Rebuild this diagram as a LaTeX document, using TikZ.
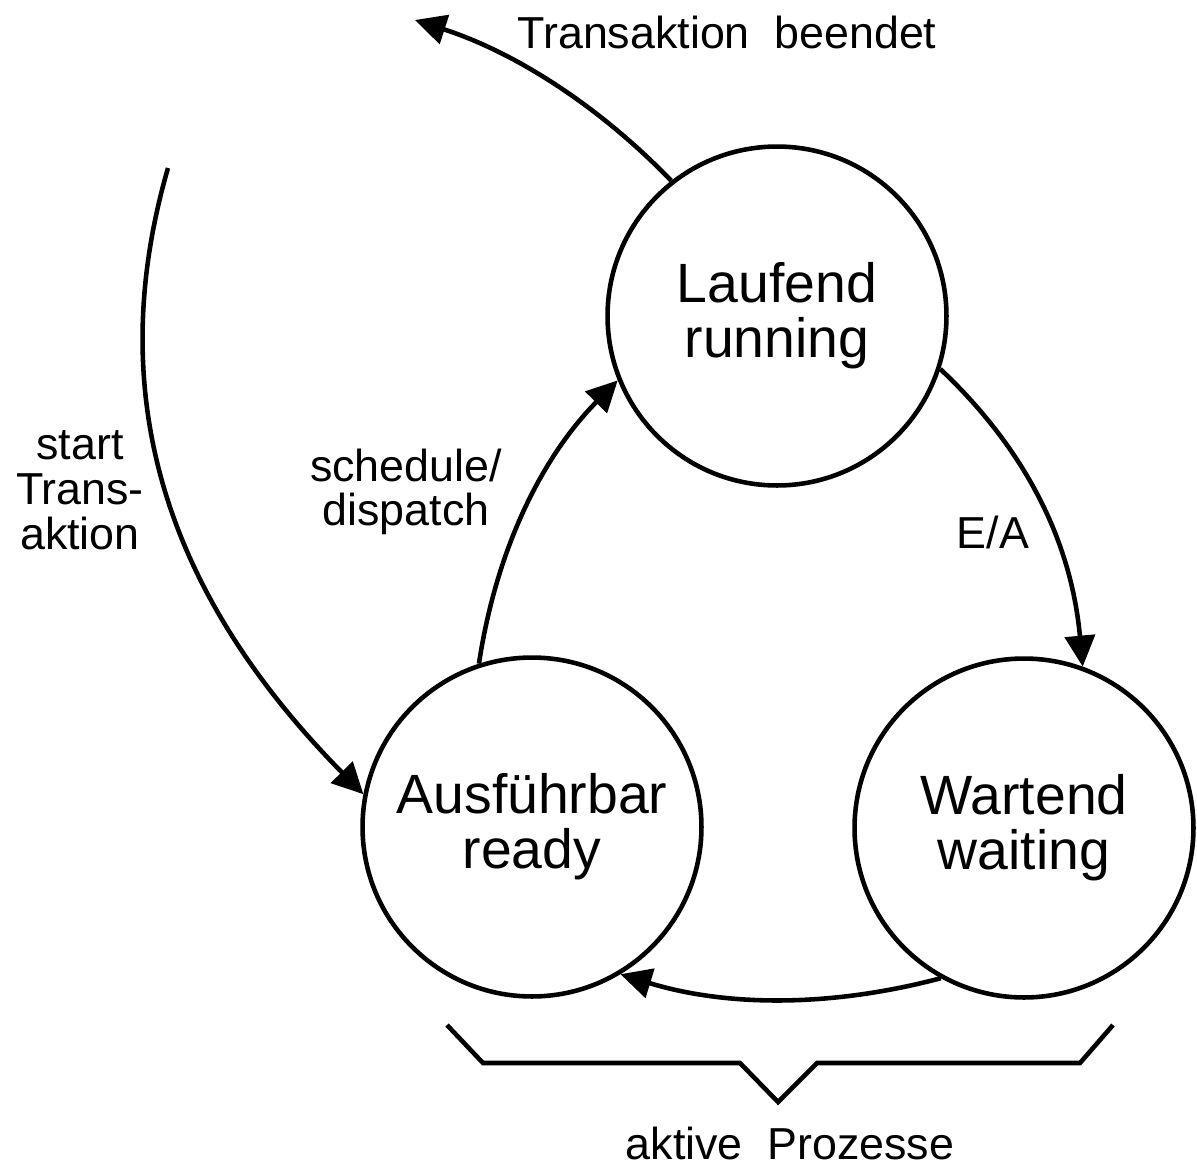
\documentclass[tikz,border=0pt]{standalone}
\usepackage{fontspec}
\setmainfont{Liberation Sans}
\usetikzlibrary{arrows.meta}
\begin{document}
\begin{tikzpicture}[x=0.02cm,y=-0.02cm,
  state/.style={circle,draw,line width=2.6pt,minimum size=6.78cm,inner sep=0pt,align=center,font=\fontsize{31.5}{31.5}\selectfont},
  conn/.style={line width=2.6pt,-{Triangle[length=0.62cm,width=0.6cm]}},
  lbl/.style={font=\fontsize{25.5}{25.5}\selectfont,align=center,inner sep=0pt},
  bracket/.style={line width=2.6pt,line join=miter}]
\useasboundingbox (0,0) rectangle (1197,1167);

\node[state] (L) at (777,316) {Laufend\\running};
\node[state] (A) at (532,827) {Ausführbar\\ready};
\node[state] (W) at (1024,828) {Wartend\\waiting};

\coordinate (t1) at (415,20);
\coordinate (s0) at (168,168);

% Transaktion beendet
\draw[conn] (L.128) .. controls (595,102) and (511,51) .. (t1);
% start Transaktion
\draw[conn] (s0) .. controls (95,420) and (187,615) .. (A.169);
% schedule/dispatch
\draw[conn] (A.108) .. controls (497,545) and (544,455) .. (L.202);
% E/A
\draw[conn] (L.342) .. controls (1024,448) and (1071,539) .. (W.70);
% waiting -> ready
\draw[conn] (W.241) .. controls (836,1006) and (731,1008) .. (A.301);

% brace
\draw[bracket] (447,1025) -- (483,1063) -- (740,1063) -- (778,1102) -- (817,1063) -- (1080,1063) -- (1113,1025);

\node[lbl] (lbeendet) at (727,32) {Transaktion\hspace{0.55em}beendet};
\node[lbl] (lstart) at (80,490) {start\\Trans-\\aktion};
\node[lbl] (lsched) at (406,492) {schedule/\\dispatch};
\node[lbl] (lea) at (993,532) {E/A};
\node[lbl] (laktiv) at (790,1143) {aktive\hspace{0.55em}Prozesse};
\end{tikzpicture}
\end{document}
